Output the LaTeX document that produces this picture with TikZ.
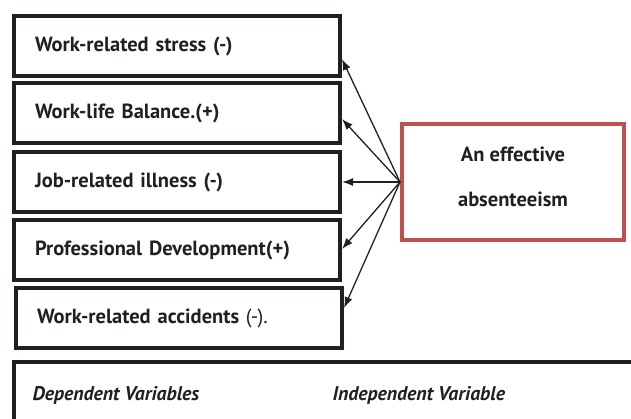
\documentclass[tikz,border=0pt]{standalone}
\usepackage{fontspec}
\setmainfont{PT Sans}
\usetikzlibrary{arrows.meta}
\definecolor{boxred}{HTML}{C0504D}
\definecolor{ink}{HTML}{231F20}
\tikzset{
    varbox/.style={draw=ink, line width=4pt, anchor=north west,
        minimum width=326pt, minimum height=60pt, inner xsep=21pt,
        text width=284pt, align=left, text=ink,
        font=\fontsize{20.5}{24}\selectfont\bfseries},
    effbox/.style={draw=boxred, line width=4pt, minimum width=222pt,
        minimum height=116pt, align=center, text=ink, text depth=10pt,
        font=\fontsize{20.5}{45}\selectfont\bfseries},
    link/.style={draw=ink, line width=1.3pt, -{Latex[length=11pt,width=8pt]}},
    caption/.style={anchor=west, text=ink,
        font=\fontsize{19.8}{23}\selectfont\bfseries\itshape},
}

\begin{document}
\begin{tikzpicture}[x=1pt, y=-1pt]
\useasboundingbox (0,0) rectangle (631,418);
% dependent variables
\node[varbox] (stress) at (12,14) {Work-related stress (-)};
\node[varbox] (balance) at (12,81) {Work-life Balance.(+)};
\node[varbox] (illness) at (12,150) {Job-related illness (-)};
\node[varbox] (develop) at (12,218) {Professional Development(+)};
\node[varbox] (accident) at (14,286) {Work-related accidents \mdseries(-).};

% independent variable
\node[effbox] (effect) at (513,182) {An effective\\absenteeism};

\draw[link] (effect.west) -- ([yshift=-13pt]stress.east);
\draw[link] (effect.west) -- ([yshift=-6pt]balance.east);
\draw[link] (effect.west) -- (illness.east);
\draw[link] (effect.west) -- ([yshift=1pt]develop.east);
\draw[link] (effect.west) -- ([yshift=10pt]accident.east);

% legend frame
\begin{scope}
\clip (0,0) rectangle (631,418);
\draw[ink, line width=4pt] (14,440) -- (14,362) -- (660,362);
\end{scope}
\node[caption] (deplabel) at (29,395) {Dependent Variables};
\node[caption] (indeplabel) at (329,395) {Independent Variable};
\end{tikzpicture}
\end{document}
